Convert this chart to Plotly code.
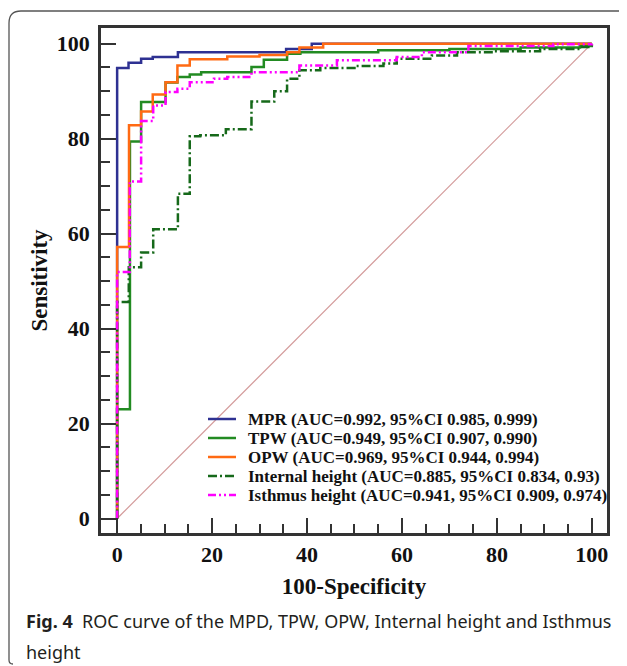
import plotly.graph_objects as go

# ---------------- data ----------------
# ROC step corners: each point is the top of a vertical step (drawn with 'hv')
mpr_fpr = [0, 0, 2.4, 5.05, 7.5, 12.8, 35.6, 41.0, 100]
mpr_tpr = [0, 94.9, 96.0, 96.8, 97.2, 98.2, 98.9, 100, 100]

tpw_fpr = [0, 0, 2.7, 5.05, 10.2, 12.7, 15.3, 17.7, 28.3, 30.9, 35.8, 38.6, 55, 70, 85, 97.5, 100]
tpw_tpr = [0, 23.0, 79.4, 87.7, 91.8, 93.0, 93.5, 94.0, 95.1, 96.6, 97.9, 98.2, 98.6, 98.9, 99.2, 99.5, 100]

opw_fpr = [0, 0, 2.5, 5.05, 7.5, 10.2, 12.7, 15.3, 23.2, 30.0, 35.8, 38.4, 43.4, 100]
opw_tpr = [0, 57.2, 82.8, 85.7, 89.3, 91.9, 95.4, 96.7, 97.3, 97.6, 98.2, 99.2, 100, 100]

internal_fpr = [0, 0, 2.45, 5.05, 7.6, 12.8, 15.3, 17.5, 22.9, 28.3, 33.1, 35.8, 38.4, 42.8,
                50, 56.1, 58.9, 66.3, 71.6, 79.2, 89.1, 97.5, 100]
internal_tpr = [0, 45.6, 52.9, 56.0, 60.9, 68.4, 80.5, 80.7, 82.0, 87.8, 90.0, 92.6, 94.4, 94.9,
                95.3, 95.8, 96.8, 97.5, 98.2, 98.4, 98.9, 99.3, 100]

isthmus_fpr = [0, 0, 2.66, 5.05, 7.6, 10.2, 12.7, 15.3, 20.4, 23.2, 28.3, 38.4, 46.3, 58.9,
               64.2, 74.0, 91.9, 100]
isthmus_tpr = [0, 51.9, 71.0, 83.7, 87.0, 89.8, 90.5, 91.9, 92.6, 93.0, 94.0, 95.4, 96.5, 97.2,
               98.2, 99.5, 99.9, 100]

ref_x = [0, 100]
ref_y = [0, 100]

series_names = [
    "MPR (AUC=0.992, 95%CI 0.985, 0.999)",
    "TPW (AUC=0.949, 95%CI 0.907, 0.990)",
    "OPW (AUC=0.969, 95%CI 0.944, 0.994)",
    "Internal height (AUC=0.885, 95%CI 0.834, 0.93)",
    "Isthmus height (AUC=0.941, 95%CI 0.909, 0.974)",
]
tick_vals = [0, 20, 40, 60, 80, 100]
x_title = "100-Specificity"
y_title = "Sensitivity"
caption_bold = "Fig. 4"
caption_line1 = "ROC curve of the MPD, TPW, OPW, Internal height and Isthmus"
caption_line2 = "height"

# ---------------- figure ----------------
OFF = 8                     # page body margin of the html page
W, H = 627 - OFF, 666 - OFF
ML, MR, MT, MB = 93, 20, 20, 133
PW, PH = W - ML - MR, H - MT - MB

def px2paper(x, y):
    """page pixel (as in the reference) -> paper coordinates"""
    x -= OFF
    y -= OFF
    return (x - ML) / PW, (H - MB - y) / PH

SERIF = "Liberation Serif, Times New Roman, serif"
SANS = "Noto Sans, Open Sans, sans-serif"

fig = go.Figure()
fig.add_trace(go.Scatter(x=ref_x, y=ref_y, mode="lines", showlegend=False,
                         line=dict(color="#D39A9A", width=1.2), hoverinfo="skip"))

styles = [
    dict(color="#2E3192", width=2.5, dash="solid"),
    dict(color="#228B22", width=2.5, dash="solid"),
    dict(color="#FF6A13", width=2.5, dash="solid"),
    dict(color="#16691A", width=2.5, dash="9px,3px,2px,3px"),
    dict(color="#FF00FF", width=2.5, dash="8px,3px,2px,3px,2px,3px"),
]
data = [(mpr_fpr, mpr_tpr), (tpw_fpr, tpw_tpr), (opw_fpr, opw_tpr),
        (internal_fpr, internal_tpr), (isthmus_fpr, isthmus_tpr)]
for (xs, ys), name, st in zip(data, series_names, styles):
    fig.add_trace(go.Scatter(x=xs, y=ys, mode="lines", name=name, showlegend=False,
                             line=dict(shape="hv", **st)))

# compact legend (entries 19 px apart, as in the reference)
LEG_X0, LEG_X1, LEG_TX, LEG_Y0, LEG_DY = 208, 236, 246, 419, 19
for i, (name, st) in enumerate(zip(series_names, styles)):
    lx0, ly = px2paper(LEG_X0, LEG_Y0 + i * LEG_DY)
    lx1, _ = px2paper(LEG_X1, 0)
    tx, _ = px2paper(LEG_TX, 0)
    fig.add_shape(type="line", xref="paper", yref="paper", x0=lx0, x1=lx1, y0=ly, y1=ly,
                  line=dict(color=st["color"], width=st["width"], dash=st["dash"]))
    fig.add_annotation(xref="paper", yref="paper", x=tx, y=ly, xanchor="left", yanchor="middle",
                       showarrow=False, text=name,
                       font=dict(family=SERIF, size=17, color="#111111", weight="bold"))

axis_common = dict(
    showgrid=False, zeroline=False,
    showline=True, linecolor="#333333", linewidth=2.5, mirror=True,
    ticks="inside", ticklen=15, tickwidth=2, tickcolor="#333333",
    minor=dict(ticks="inside", ticklen=9, tickwidth=1.5, tickcolor="#333333", dtick=5),
    tickvals=tick_vals,
    tickfont=dict(family=SERIF, size=22, color="#111111", weight="bold"),
)

fig.update_layout(
    width=W, height=H,
    margin=dict(l=ML, r=MR, t=MT, b=MB, autoexpand=False),
    paper_bgcolor="white", plot_bgcolor="white",
    xaxis=dict(range=[-3.4, 103.2], ticklabelstandoff=0,
               title=dict(text=x_title, standoff=12,
                          font=dict(family=SERIF, size=23, color="#111111", weight="bold")),
               **axis_common),
    yaxis=dict(range=[-3.05, 103.3], ticklabelstandoff=4,
               title=dict(text=y_title, standoff=3,
                          font=dict(family=SERIF, size=23, color="#111111", weight="bold")),
               **axis_common),
    showlegend=False,
)

# outer rounded frame (partly outside the visible page, as in the reference)
x0, y0 = px2paper(9, 11)
r = 12
xr, yr = px2paper(9 + r, 11 + r)
x_end, _ = px2paper(660, 0)
_, y_end = px2paper(0, 664)
xb, _ = px2paper(13, 0)
_, yb = px2paper(0, 660)
fig.add_shape(type="path", xref="paper", yref="paper",
              path=f"M {x_end},{y0} L {xr},{y0} Q {x0},{y0} {x0},{yr} L {x0},{yb} Q {x0},{y_end} {xb},{y_end}",
              line=dict(color="#555555", width=1.3))

cx, cy = px2paper(24, 621)
fig.add_annotation(xref="paper", yref="paper", x=cx, y=cy, xanchor="left", yanchor="middle",
                   showarrow=False, align="left",
                   text=f"<b>{caption_bold}</b>  {caption_line1}",
                   font=dict(family=SANS, size=18, color="#231F20"))
cx2, cy2 = px2paper(24, 652)
fig.add_annotation(xref="paper", yref="paper", x=cx2, y=cy2, xanchor="left", yanchor="middle",
                   showarrow=False, align="left", text=caption_line2,
                   font=dict(family=SANS, size=18, color="#231F20"))

fig.write_html("out.html")
